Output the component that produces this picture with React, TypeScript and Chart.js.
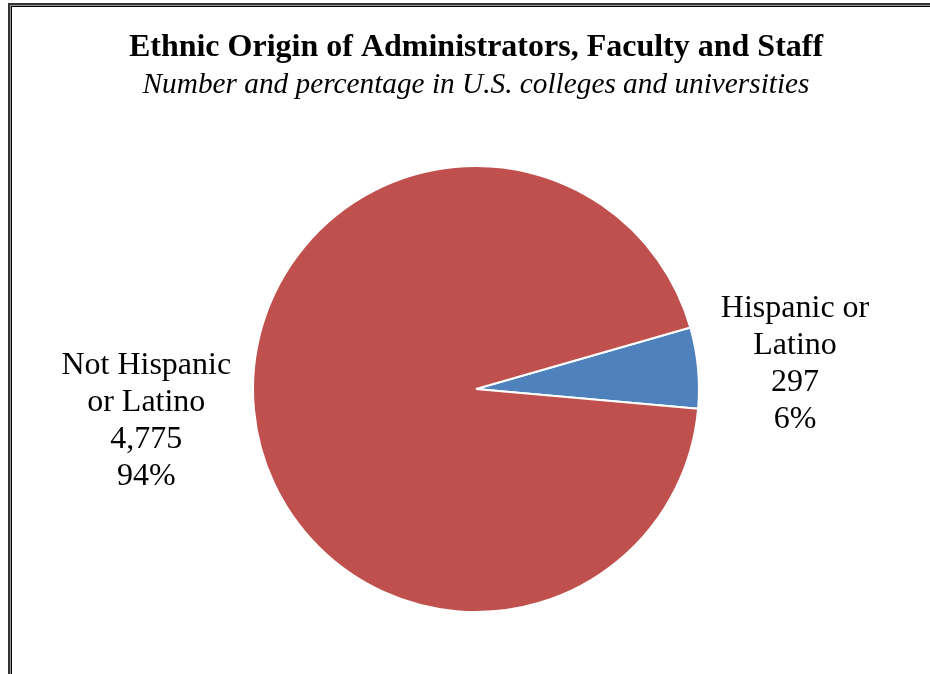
import React, { useEffect, useRef } from "react";
import { Chart, registerables } from "chart.js";

Chart.register(...registerables);

const TITLE = "Ethnic Origin of Administrators, Faculty and Staff";
const SUBTITLE = "Number and percentage in U.S. colleges and universities";
const categories = ["Hispanic or Latino", "Not Hispanic or Latino"];
const categoryLines = [["Hispanic or", "Latino"], ["Not Hispanic", "or Latino"]];
const values = [297, 4775];
const colors = ["#4F81BD", "#C0504D"];

const FONT = '"Liberation Serif", "Times New Roman", serif';

const labelPlugin = {
  id: "outerLabels",
  afterDatasetsDraw(chart: any) {
    const ctx = chart.ctx;
    const meta = chart.getDatasetMeta(0);
    const data = chart.data.datasets[0].data as number[];
    const total = data.reduce((a, b) => a + b, 0);
    ctx.save();
    ctx.font = `32px ${FONT}`;
    ctx.fillStyle = "#000";
    ctx.textAlign = "center";
    ctx.textBaseline = "middle";
    const lineH = 37;
    meta.data.forEach((arc: any, i: number) => {
      const { x, y, startAngle, endAngle, outerRadius } = arc.getProps(
        ["x", "y", "startAngle", "endAngle", "outerRadius"],
        true
      );
      const mid = (startAngle + endAngle) / 2;
      const dx = Math.cos(mid);
      const dy = Math.sin(mid);
      const lines = [
        ...categoryLines[i],
        data[i].toLocaleString("en-US"),
        Math.round((data[i] / total) * 100) + "%",
      ];
      const maxW = Math.max(...lines.map((l) => ctx.measureText(l).width));
      const ax = x + (outerRadius + 23) * dx + Math.sign(dx) * (maxW / 2);
      const ay = y + (outerRadius + 80) * dy + 3.5;
      const y0 = ay - ((lines.length - 1) / 2) * lineH;
      lines.forEach((l, k) => ctx.fillText(l, ax, y0 + k * lineH));
    });
    ctx.restore();
  },
};

export default function App() {
  const ref = useRef<HTMLCanvasElement | null>(null);
  useEffect(() => {
    if (!ref.current) return;
    const chart = new Chart(ref.current, {
      type: "pie",
      data: {
        labels: categories,
        datasets: [
          {
            data: values,
            backgroundColor: colors,
            borderColor: "#FFFFFF",
            borderWidth: 2,
          },
        ],
      },
      options: {
        responsive: false,
        animation: false,
        rotation: 74,
        layout: { padding: { top: 0, bottom: 74, left: 0, right: 0 } },
        plugins: {
          legend: { display: false },
          tooltip: { enabled: false },
          title: {
            display: true,
            text: TITLE,
            color: "#000",
            font: { family: FONT, size: 32, weight: "bold", lineHeight: 1.2 },
            padding: { top: 22, bottom: 0 },
          },
          subtitle: {
            display: true,
            text: SUBTITLE,
            color: "#000",
            font: { family: FONT, size: 29.3, style: "italic", lineHeight: 1.2 },
            padding: { top: 0.5, bottom: 62 },
          },
        },
      },
      plugins: [labelPlugin],
    });
    return () => chart.destroy();
  }, []);

  return (
    <div
      style={{
        position: "fixed",
        left: 0,
        top: 0,
        right: 0,
        bottom: 0,
        overflow: "hidden",
        background: "#fff",
      }}
    >
      <div
        style={{
          position: "absolute",
          left: 8,
          top: 3,
          border: "2px solid #333",
        }}
      >
        <div style={{ border: "1px solid #999" }}>
          <div style={{ border: "1px solid #000", background: "#fff" }}>
            <canvas ref={ref} width={928} height={680} style={{ display: "block" }} />
          </div>
        </div>
      </div>
    </div>
  );
}
